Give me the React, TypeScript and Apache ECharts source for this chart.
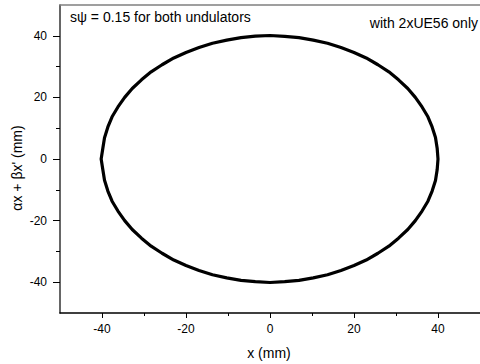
import React, { useEffect, useRef } from "react";
import * as echarts from "echarts";

const xTickValues = [-40, -20, 0, 20, 40];
const xMinorTickValues = [-30, -10, 10, 30];
const yTickValues = [-40, -20, 0, 20, 40];
const yMinorTickValues = [-30, -10, 10, 30];

const xValues = [
  40.0, 39.8, 39.4, 38.6, 37.6, 36.2, 34.6, 32.8, 30.6, 28.3, 25.7, 22.9, 20.0, 16.9, 13.7, 10.3, 6.9, 3.5,
  0.0, -3.5, -6.9, -10.3, -13.7, -16.9, -20.0, -22.9, -25.7, -28.3, -30.6, -32.8, -34.6, -36.2, -37.6, -38.6,
  -39.4, -39.8, -40.2, -39.8, -39.4, -38.6, -37.6, -36.2, -34.6, -32.8, -30.6, -28.3, -25.7, -22.9, -20.0,
  -16.9, -13.7, -10.3, -6.9, -3.5, 0.0, 3.5, 6.9, 10.3, 13.7, 16.9, 20.0, 22.9, 25.7, 28.3, 30.6, 32.8, 34.6,
  36.2, 37.6, 38.6, 39.4, 39.8, 40.0,
];
const yValues = [
  0, 3.5, 7.0, 10.4, 13.7, 16.9, 20.0, 22.9, 25.7, 28.3, 30.6, 32.8, 34.6, 36.2, 37.6, 38.6, 39.4, 39.8,
  40.1, 39.9, 39.4, 38.6, 37.6, 36.2, 34.6, 32.8, 30.6, 28.3, 25.7, 22.9, 20.0, 16.9, 13.7, 10.4, 6.9, 3.5,
  0, -3.5, -6.9, -10.4, -13.7, -16.9, -20.0, -22.9, -25.7, -28.3, -30.6, -32.8, -34.6, -36.2, -37.6, -38.6,
  -39.4, -39.8, -40.1, -39.8, -39.4, -38.6, -37.6, -36.2, -34.6, -32.8, -30.6, -28.3, -25.7, -22.9, -20.0,
  -16.9, -13.7, -10.4, -7.0, -3.5, 0,
];

const FONT = "'Liberation Sans', Arial, sans-serif";

export default function App() {
  const ref = useRef<HTMLDivElement>(null);
  useEffect(() => {
    if (!ref.current) return;
    const chart = echarts.init(ref.current, null, { renderer: "svg" });
    const data = xValues.map((x, i) => [x, yValues[i]]);
    const base = { type: "value", min: -50, max: 50, interval: 10, splitLine: { show: false } };
    chart.setOption({
      animation: false,
      backgroundColor: "#fff",
      grid: { left: 60, top: 5, right: -1, bottom: 51, containLabel: false },
      xAxis: [
        {
          ...base,
          position: "bottom",
          axisLine: { show: true, onZero: false, lineStyle: { color: "#000", width: 1.5 } },
          axisTick: { show: true, inside: false, length: 5, customValues: xTickValues, lineStyle: { color: "#000" } },
          axisLabel: {
            margin: 10,
            fontFamily: FONT,
            fontSize: 12,
            color: "#000",
            customValues: xTickValues,
          },
        },
        {
          ...base,
          position: "top",
          axisLine: { show: true, onZero: false, lineStyle: { color: "#808080", width: 1.5 } },
          axisTick: { show: false },
          axisLabel: { show: false },
        },
        {
          ...base,
          position: "bottom",
          offset: 0,
          axisLine: { show: false, onZero: false },
          axisTick: { show: true, inside: false, length: 3, customValues: xMinorTickValues, lineStyle: { color: "#000" } },
          axisLabel: { show: false },
        },
      ],
      yAxis: [
        {
          ...base,
          position: "left",
          axisLine: { show: true, onZero: false, lineStyle: { color: "#333", width: 1.5 } },
          axisTick: { show: true, inside: false, length: 7, customValues: yTickValues, lineStyle: { color: "#000" } },
          axisLabel: {
            margin: 13,
            fontFamily: FONT,
            fontSize: 12,
            color: "#000",
            customValues: yTickValues,
          },
        },
        {
          ...base,
          position: "left",
          offset: 0,
          axisLine: { show: false, onZero: false },
          axisTick: { show: true, inside: false, length: 4, customValues: yMinorTickValues, lineStyle: { color: "#000" } },
          axisLabel: { show: false },
        },
      ],
      graphic: [
        {
          type: "text",
          left: 70,
          top: 10,
          style: {
            text: "sψ = 0.15 for both undulators",
            font: `14px ${FONT}`,
            fill: "#000",
          },
        },
        {
          type: "text",
          right: 2,
          top: 16,
          style: {
            text: "with 2xUE56 only",
            font: `14px ${FONT}`,
            fill: "#000",
          },
        },
        {
          type: "text",
          x: 269,
          y: 353,
          style: {
            text: "x (mm)",
            font: `14px ${FONT}`,
            fill: "#000",
            align: "center",
            verticalAlign: "middle",
          },
        },
        {
          type: "text",
          x: 17,
          y: 168,
          rotation: Math.PI / 2,
          style: {
            text: "αx + βx' (mm)",
            font: `14px ${FONT}`,
            fill: "#000",
            align: "center",
            verticalAlign: "middle",
          },
        },
      ],
      series: [
        {
          type: "line",
          xAxisIndex: 0,
          yAxisIndex: 0,
          data,
          showSymbol: false,
          symbol: "none",
          lineStyle: { color: "#000", width: 3.2 },
        },
      ],
    });
    return () => chart.dispose();
  }, []);
  return (
    <div
      ref={ref}
      style={{ position: "fixed", left: 0, top: 0, width: 480, height: 364 }}
    />
  );
}
